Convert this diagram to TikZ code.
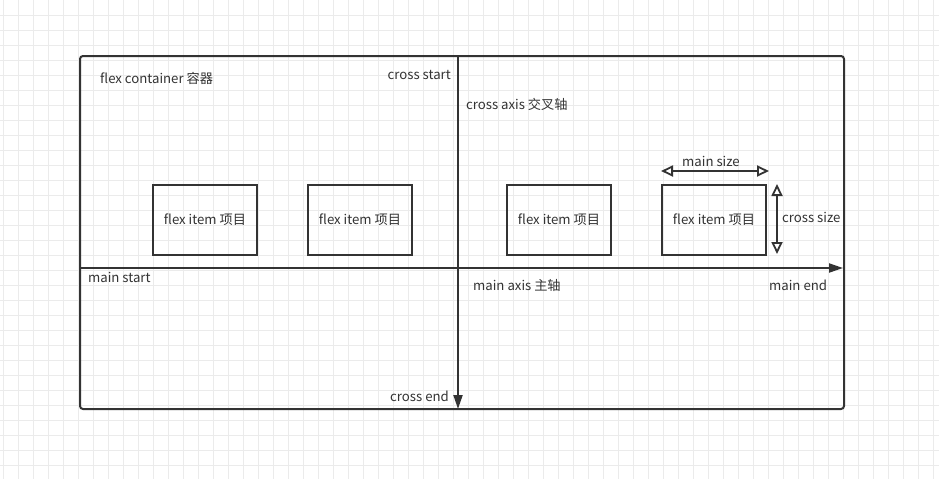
\documentclass[tikz,border=0pt]{standalone}
\usepackage{fontspec}
\setmainfont{Noto Sans CJK SC}
\usepackage{tikz}
\usetikzlibrary{arrows.meta}
\definecolor{ink}{HTML}{333333}
\definecolor{gridgray}{HTML}{EBEBEB}

\begin{document}
\begin{tikzpicture}[x=1pt,y=-1pt,
		every node/.style={font=\fontsize{13.2}{15}\selectfont, text=ink, inner sep=0pt},
		itembox/.style={draw=ink, line width=2pt, minimum width=104pt, minimum height=70pt},
		axisline/.style={draw=ink, line width=2pt, -{Triangle[length=14pt,width=9pt]}},
		sizeline/.style={draw=ink, line width=1.8pt, {Triangle[open,length=12pt,width=11pt]}-{Triangle[open,length=12pt,width=11pt]}}]
				\useasboundingbox (0,0) rectangle (939,479);
				\fill[white] (0,0) rectangle (939,479);
				\foreach \gx in {3,18,...,939} \draw[gridgray] (\gx,0) -- (\gx,479);
				\foreach \gy in {15,30,...,479} \draw[gridgray] (0,\gy) -- (939,\gy);
				% container
				\draw[ink, line width=2pt, rounded corners=3pt] (80,56) rectangle (844,409);
				\node[anchor=west] (container) at (100,78) {flex container 容器};
				% axes
				\coordinate (mainstart) at (80,268);
				\coordinate (mainend) at (843,268);
				\coordinate (crossstart) at (458,57);
				\coordinate (crossend) at (458,409);
				\draw[axisline] (mainstart) -- (mainend);
				\draw[axisline] (crossstart) -- (crossend);
				\node[anchor=west] (lmainstart) at (88,277) {main start};
				\node[anchor=west] (lmainaxis) at (473,285) {main axis 主轴};
				\node[anchor=west] (lmainend) at (769,285) {main end};
				\node[anchor=east] (lcrossstart) at (451,75) {cross start};
				\node[anchor=west] (lcrossaxis) at (466,104) {cross axis 交叉轴};
				\node[anchor=east] (lcrossend) at (449,396) {cross end};
				% items
				\node[itembox] (item1) at (205,220) {flex item 项目};
				\node[itembox] (item2) at (360,220) {flex item 项目};
				\node[itembox] (item3) at (559,220) {flex item 项目};
				\node[itembox] (item4) at (714,220) {flex item 项目};
				% sizes
				\coordinate (msleft) at (661,171);
				\coordinate (msright) at (769,171);
				\draw[sizeline] (msleft) -- (msright);
				\node (lmainsize) at (711,161) {main size};
				\coordinate (cstop) at (777,184);
				\coordinate (csbottom) at (777,254);
				\draw[sizeline] (cstop) -- (csbottom);
				\node[anchor=west] (lcrosssize) at (782,217) {cross size};
			\end{tikzpicture}
\end{document}
